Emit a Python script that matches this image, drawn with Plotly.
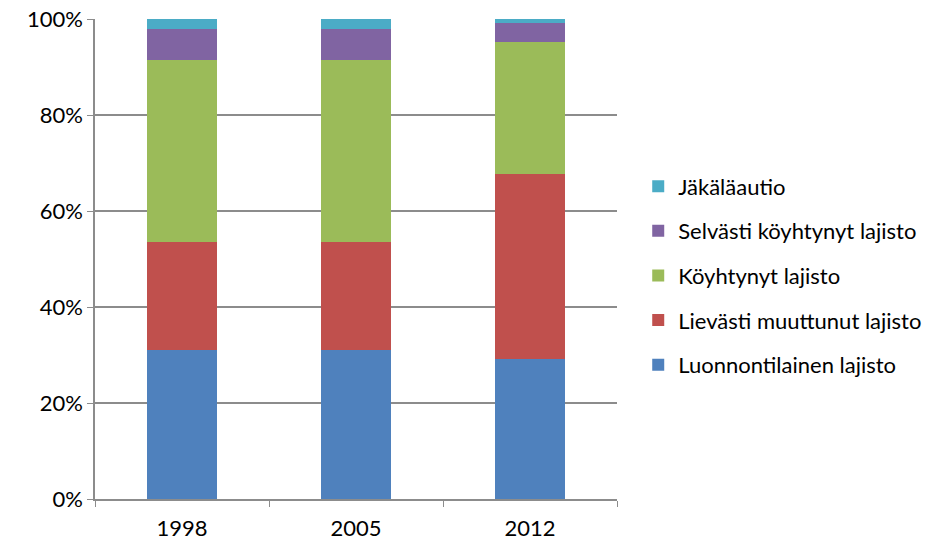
import plotly.graph_objects as go

years = ["1998", "2005", "2012"]

luonnontilainen = [31.1, 31.1, 29.1]
lievasti_muuttunut = [22.5, 22.5, 38.7]
koyhtynyt = [37.8, 37.8, 27.5]
selvasti_koyhtynyt = [6.6, 6.6, 3.8]
jakalaautio = [2.0, 2.0, 0.9]

series = [
    ("Luonnontilainen lajisto", luonnontilainen, "#4F81BD"),
    ("Lievästi muuttunut lajisto", lievasti_muuttunut, "#C0504D"),
    ("Köyhtynyt lajisto", koyhtynyt, "#9BBB59"),
    ("Selvästi köyhtynyt lajisto", selvasti_koyhtynyt, "#8064A2"),
    ("Jäkäläautio", jakalaautio, "#4BACC6"),
]

font_family = "Lato, Carlito, Calibri, sans-serif"
grid_color = "#8C8C8C"

fig = go.Figure()
n = len(series)
for i, (name, vals, color) in enumerate(series):
    fig.add_trace(go.Bar(
        x=years, y=vals, name=name, legendgroup=name,
        legendrank=n - i,
        marker=dict(color=color, line=dict(width=0)),
    ))

fig.update_layout(
    width=929, height=546,
    margin=dict(l=95, r=312, t=19, b=47, autoexpand=False),
    barmode="stack",
    bargap=0.6,
    plot_bgcolor="white",
    paper_bgcolor="white",
    font=dict(family=font_family, size=22, color="#000000"),
    showlegend=True,
    legend=dict(
        traceorder="grouped",
        tracegroupgap=13,
        xref="container", yref="container",
        x=0.687, xanchor="left",
        y=0.4955, yanchor="middle",
        font=dict(family=font_family, size=22, color="#000000"),
        bgcolor="rgba(0,0,0,0)",
    ),
    xaxis=dict(
        type="category",
        automargin=False,
        showline=True, linecolor=grid_color, linewidth=1.5,
        ticks="outside", tickson="boundaries", ticklen=6, tickcolor=grid_color,
        ticklabelstandoff=9,
        showgrid=False,
        tickfont=dict(size=22, color="#000000"),
    ),
    yaxis=dict(
        range=[0, 100],
        automargin=False,
        tickvals=[0, 20, 40, 60, 80, 100],
        ticktext=["0%", "20%", "40%", "60%", "80%", "100%"],
        showline=True, linecolor=grid_color, linewidth=1.5,
        ticks="outside", ticklen=6, tickcolor=grid_color,
        showgrid=True, gridcolor=grid_color, gridwidth=1.5,
        zeroline=False,
        tickfont=dict(size=22, color="#000000"),
    ),
)

fig.write_html("out.html")
